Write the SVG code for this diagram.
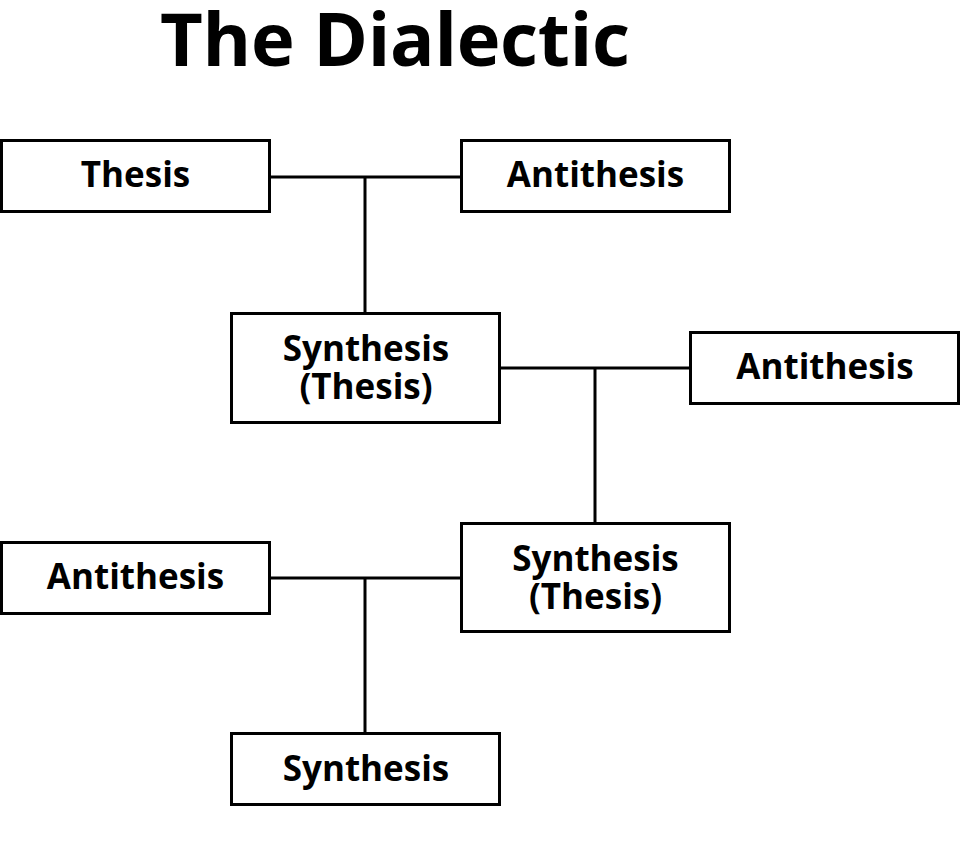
<svg xmlns="http://www.w3.org/2000/svg" width="962" height="843" viewBox="0 0 962 843">
<style>
.box{fill:#fff;stroke:#000;stroke-width:3}
.lbl{font-family:"Open Sans","Liberation Sans",sans-serif;font-weight:700;font-size:35px;text-anchor:middle;fill:#000}
.title{font-family:"Open Sans","Liberation Sans",sans-serif;font-weight:700;font-size:74px;fill:#000}
.conn{stroke:#000;stroke-width:3;fill:none}
</style>
<rect width="962" height="843" fill="#fff"/>
<text class="title" x="160" y="66" textLength="470">The Dialectic</text>
<g id="connectors">
<path class="conn" d="M270 177H461M365 177V313"/>
<path class="conn" d="M500 368H690M595 368V523"/>
<path class="conn" d="M270 578H461M365 578V733"/>
</g>
<g id="thesis"><rect class="box" x="1.5" y="140.5" width="268" height="71"/><text class="lbl" x="135.5" y="187">Thesis</text></g>
<g id="antithesis1"><rect class="box" x="461.5" y="140.5" width="268" height="71"/><text class="lbl" x="595.5" y="187">Antithesis</text></g>
<g id="synthesis1"><rect class="box" x="231.5" y="313.5" width="268" height="109"/><text class="lbl" x="366" y="361">Synthesis</text><text class="lbl" x="366" y="399">(Thesis)</text></g>
<g id="antithesis2"><rect class="box" x="690.5" y="332.5" width="268" height="71"/><text class="lbl" x="825" y="379">Antithesis</text></g>
<g id="synthesis2"><rect class="box" x="461.5" y="523.5" width="268" height="108"/><text class="lbl" x="595.5" y="571">Synthesis</text><text class="lbl" x="595.5" y="609">(Thesis)</text></g>
<g id="antithesis3"><rect class="box" x="1.5" y="542.5" width="268" height="71"/><text class="lbl" x="135.5" y="589">Antithesis</text></g>
<g id="synthesis3"><rect class="box" x="231.5" y="733.5" width="268" height="71"/><text class="lbl" x="366" y="781">Synthesis</text></g>
</svg>
